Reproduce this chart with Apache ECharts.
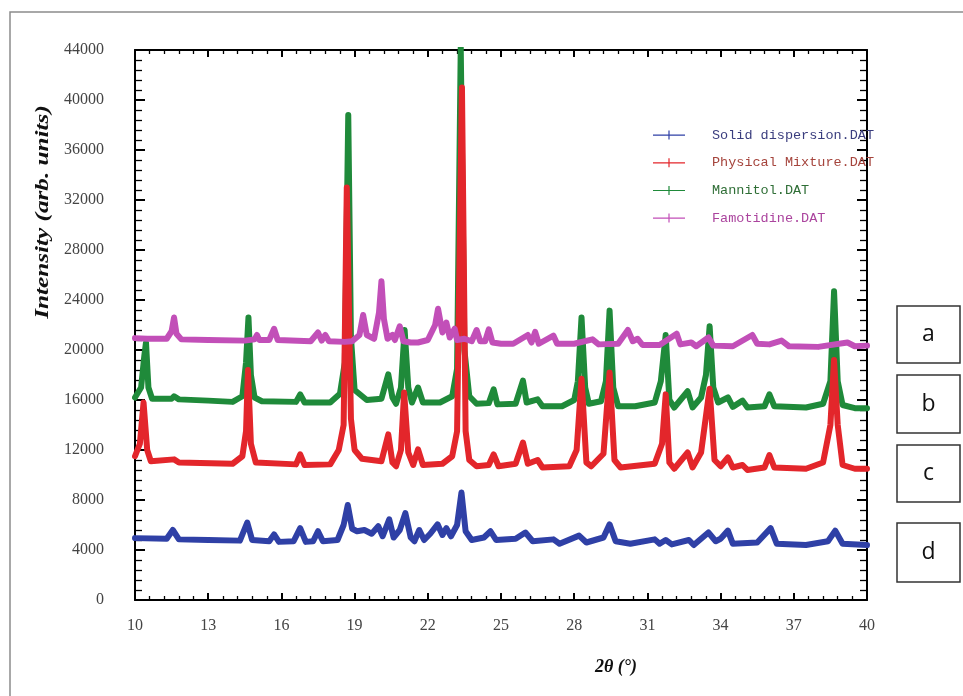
<!DOCTYPE html>
<html>
<head>
<meta charset="utf-8">
<script src="https://cdn.jsdelivr.net/npm/echarts@6/dist/echarts.min.js"></script>
<style>html,body{margin:0;padding:0;background:#fff}#c{width:963px;height:696px}</style>
</head>
<body>
<div id="c"></div>
<script>
// ---- data (2θ in degrees, intensity in arb. units) ----
const seriesNames = ['Solid dispersion.DAT', 'Physical Mixture.DAT', 'Mannitol.DAT', 'Famotidine.DAT'];
const xTicks = [10, 13, 16, 19, 22, 25, 28, 31, 34, 37, 40];
const yTicks = [0, 4000, 8000, 12000, 16000, 20000, 24000, 28000, 32000, 36000, 40000, 44000];

const solidDispersion = [
  [10.0,4950],[11.3,4900],[11.55,5600],[11.8,4850],[13.0,4800],[14.3,4750],[14.6,6200],[14.8,4800],
  [15.5,4700],[15.7,5250],[15.9,4650],[16.5,4700],[16.77,5750],[17.0,4650],[17.3,4700],[17.5,5500],
  [17.7,4700],[18.3,4800],[18.55,6000],[18.72,7600],[18.9,5700],[19.1,5500],[19.4,5600],[19.7,5300],
  [19.97,5900],[20.15,5100],[20.42,6450],[20.6,5000],[20.85,5600],[21.08,6950],[21.3,5000],[21.45,4700],
  [21.65,5600],[21.85,4800],[22.1,5300],[22.4,6050],[22.6,5200],[22.76,5750],[22.95,5100],[23.2,6000],
  [23.38,8600],[23.55,5500],[23.8,4800],[24.3,5000],[24.57,5500],[24.8,4800],[25.6,4900],[26.0,5400],
  [26.3,4700],[27.15,4850],[27.4,4500],[28.2,5150],[28.5,4600],[29.2,5000],[29.45,6050],[29.7,4700],
  [30.3,4500],[31.3,4850],[31.5,4500],[31.75,4800],[32.0,4450],[32.7,4800],[32.9,4400],[33.5,5400],
  [33.8,4700],[34.0,4900],[34.3,5550],[34.5,4500],[35.5,4600],[36.05,5750],[36.3,4500],[37.5,4400],
  [38.4,4700],[38.7,5550],[39.0,4500],[40.0,4400]
];
const physicalMixture = [
  [10.0,11500],[10.2,12500],[10.35,15800],[10.5,12000],[10.65,11100],[11.6,11250],[11.8,11000],[14.0,10900],
  [14.4,11500],[14.55,13500],[14.63,18400],[14.75,12500],[14.95,11000],[16.6,10850],[16.77,11650],[16.95,10800],
  [18.0,10850],[18.35,12000],[18.55,14000],[18.68,33000],[18.85,14500],[19.0,12000],[19.3,11300],[20.1,11100],
  [20.38,13250],[20.55,11000],[20.7,10700],[20.9,12000],[21.03,16600],[21.2,11800],[21.4,10800],[21.6,12050],
  [21.8,10800],[22.6,10900],[23.0,11500],[23.2,13500],[23.4,41000],[23.55,13500],[23.7,11200],[24.0,10700],
  [24.5,10800],[24.7,11650],[24.9,10700],[25.6,10900],[25.9,12600],[26.1,10900],[26.5,11200],[26.7,10600],
  [27.8,10700],[28.1,12000],[28.3,17700],[28.5,11000],[28.7,10700],[29.2,11700],[29.45,18200],[29.65,11200],
  [29.9,10600],[31.3,10900],[31.6,12500],[31.75,16450],[31.9,11000],[32.1,10500],[32.65,11800],[32.85,10600],
  [33.2,11800],[33.55,16900],[33.75,11200],[34.0,10700],[34.3,11400],[34.5,10600],[34.9,10800],[35.1,10400],
  [35.8,10600],[36.0,11600],[36.2,10600],[37.5,10500],[38.2,11000],[38.5,14000],[38.65,19200],[38.8,14000],
  [39.0,10800],[39.5,10500],[40.0,10500]
];
const mannitol = [
  [10.0,16200],[10.25,17000],[10.38,19500],[10.45,20600],[10.55,17000],[10.7,16100],[11.5,16100],[11.6,16300],
  [11.8,16050],[13.0,15950],[14.0,15850],[14.4,16300],[14.55,19000],[14.65,22600],[14.75,18000],[14.9,16200],
  [15.2,15900],[16.6,15850],[16.77,16450],[16.95,15800],[18.0,15800],[18.4,16500],[18.6,19000],[18.74,38800],
  [18.85,21000],[19.0,16800],[19.5,16000],[20.1,16100],[20.38,18050],[20.55,16200],[20.7,15700],[20.9,17000],
  [21.05,21600],[21.2,17000],[21.35,15800],[21.6,17000],[21.8,15800],[22.5,15800],[23.0,16300],[23.2,18500],
  [23.35,44200],[23.5,20000],[23.7,16300],[24.0,15700],[24.5,15750],[24.7,16850],[24.85,15650],[25.6,15700],
  [25.9,17550],[26.05,15800],[26.5,16050],[26.7,15500],[27.5,15500],[28.0,16000],[28.15,17500],[28.3,22600],
  [28.45,17000],[28.6,15700],[29.1,15900],[29.3,17500],[29.45,23150],[29.6,17000],[29.8,15500],[30.5,15500],
  [31.3,15800],[31.55,17500],[31.75,21200],[31.9,16000],[32.1,15400],[32.65,16700],[32.85,15400],[33.2,16200],
  [33.4,18000],[33.55,21900],[33.7,17000],[33.9,15800],[34.3,16200],[34.5,15450],[34.9,15950],[35.1,15400],
  [35.8,15500],[36.0,16450],[36.2,15500],[37.5,15400],[38.2,15700],[38.5,17500],[38.65,24700],[38.8,17500],
  [39.0,15600],[39.5,15350],[40.0,15350]
];
const famotidine = [
  [10.0,20950],[10.5,20900],[11.3,20900],[11.5,21500],[11.6,22600],[11.7,21300],[11.9,20850],[13.0,20800],
  [14.5,20750],[14.9,20850],[15.0,21200],[15.1,20800],[15.5,20800],[15.7,21700],[15.85,20800],[17.2,20700],
  [17.5,21400],[17.65,20750],[17.8,21200],[17.95,20700],[18.6,20650],[18.9,20700],[19.2,21200],[19.35,22800],
  [19.5,21200],[19.8,20900],[20.0,23000],[20.1,25500],[20.2,22500],[20.35,20900],[20.55,21200],[20.65,20800],
  [20.85,21900],[21.0,20700],[21.3,20600],[21.6,20600],[22.0,20800],[22.3,22000],[22.42,23300],[22.6,21400],
  [22.76,22200],[22.9,21000],[23.1,21700],[23.2,20800],[23.5,20900],[23.8,20700],[24.0,21600],[24.15,20700],
  [24.35,20700],[24.5,21650],[24.65,20600],[25.0,20500],[25.5,20500],[26.1,21200],[26.25,20600],[26.4,21450],
  [26.55,20500],[27.15,21150],[27.3,20500],[28.0,20500],[28.75,20850],[29.0,20450],[29.8,20500],[30.2,21600],
  [30.4,20700],[30.6,20900],[30.8,20400],[31.5,20400],[32.2,21300],[32.35,20450],[32.8,20600],[33.0,20300],
  [33.5,21000],[33.7,20350],[34.5,20300],[35.3,21200],[35.5,20500],[36.0,20450],[36.5,20750],[36.8,20300],
  [38.0,20250],[39.2,20600],[39.5,20300],[40.0,20350]
];
const seriesData = [solidDispersion, physicalMixture, mannitol, famotidine];
const seriesColors = ['#2f40a6', '#e3262b', '#1f8a3a', '#c24fb8'];
const seriesZ = [2, 4, 3, 5];
const legendTextColors = ['#3a3d7e', '#a5443c', '#2f6e36', '#ab449e'];
const boxLabels = ['a', 'b', 'c', 'd'];

// ---- chart ----
const chart = echarts.init(document.getElementById('c'), null, {renderer: 'canvas'});
const serif = '"Liberation Serif", "Times New Roman", serif';

const axisCommon = {
  type: 'value',
  axisLine: {show: true, onZero: false, lineStyle: {color: '#000', width: 2}},
  splitLine: {show: false},
  minorSplitLine: {show: false}
};

const xBase = Object.assign({}, axisCommon, {
  min: xTicks[0], max: xTicks[xTicks.length - 1], interval: xTicks[1] - xTicks[0],
  axisTick: {show: true, inside: true, length: 7, lineStyle: {color: '#000', width: 2}},
  minorTick: {show: true, splitNumber: 5, length: 4, lineStyle: {color: '#000', width: 1.3}}
});
const yBase = Object.assign({}, axisCommon, {
  min: yTicks[0], max: yTicks[yTicks.length - 1], interval: yTicks[1] - yTicks[0],
  axisTick: {show: true, inside: true, length: 10, lineStyle: {color: '#000', width: 2}},
  minorTick: {show: true, splitNumber: 5, length: 7, lineStyle: {color: '#000', width: 1.3}}
});

const legendIcon = 'path://M0,6.5h32v1.2h-32z M15.4,2.5h1.2v9h-1.2z M53.95,0h0.05v0.05h-0.05z M53.95,13.95h0.05v0.05h-0.05z';

const option = {
  animation: false,
  backgroundColor: '#fff',
  grid: {left: 135, right: 96, top: 50, bottom: 96, containLabel: false},
  xAxis: [
    Object.assign({}, xBase, {
      position: 'bottom',
      axisLabel: {show: true, margin: 18, fontFamily: serif, fontSize: 16, color: '#444',
        formatter: v => String(v)}
    }),
    Object.assign({}, xBase, {position: 'top', axisLabel: {show: false}})
  ],
  yAxis: [
    Object.assign({}, yBase, {
      position: 'left',
      axisLabel: {show: true, margin: 31, fontFamily: serif, fontSize: 16, color: '#444',
        formatter: v => String(v)}
    }),
    Object.assign({}, yBase, {position: 'right', axisLabel: {show: false}})
  ],
  legend: {
    show: true,
    orient: 'vertical',
    left: 648,
    top: 123,
    itemWidth: 54,
    itemHeight: 14,
    itemGap: 13.7,
    icon: legendIcon,
    itemStyle: {borderWidth: 0},
    textStyle: {fontFamily: '"Liberation Mono", "DejaVu Sans Mono", monospace', fontSize: 13.5},
    selectedMode: false,
    data: seriesNames.map((n, i) => ({name: n, textStyle: {color: legendTextColors[i]}}))
  },
  series: seriesNames.map((n, i) => ({
    name: n,
    type: 'line',
    xAxisIndex: 0,
    yAxisIndex: 0,
    data: seriesData[i],
    showSymbol: false,
    symbol: 'none',
    clip: true,
    color: seriesColors[i],
    lineStyle: {color: seriesColors[i], width: 6, join: 'round', cap: 'round'},
    z: seriesZ[i]
  })),
  graphic: [
    {type: 'rect', z: -10, silent: true,
      shape: {x: 10, y: 12, width: 1000, height: 800},
      style: {fill: 'none', stroke: '#8c8c8c', lineWidth: 1.5}},
    {type: 'text', x: 43, y: 212, rotation: Math.PI / 2, scaleX: 1.4, scaleY: 1, silent: true,
      style: {text: 'Intensity (arb. units)', textAlign: 'center', textVerticalAlign: 'middle',
        font: 'italic bold 18px ' + serif, fill: '#111'}},
    {type: 'text', x: 616, y: 667, silent: true,
      style: {text: '2θ (°)', textAlign: 'center', textVerticalAlign: 'middle',
        font: 'italic bold 18px ' + serif, fill: '#111'}}
  ].concat(boxLabels.map((b, i) => {
    const tops = [306, 375, 445, 523];
    const hs = [57, 58, 57, 59];
    return {type: 'group', silent: true, children: [
      {type: 'rect', shape: {x: 897, y: tops[i], width: 63, height: hs[i]},
        style: {fill: '#fff', stroke: '#333', lineWidth: 1.5}},
      {type: 'text', x: 928.5, y: tops[i] + hs[i] / 2, style: {text: b, textAlign: 'center',
        textVerticalAlign: 'middle', font: '23px "Open Sans", "Noto Sans", sans-serif', fill: '#111'}}
    ]};
  }))
};
chart.setOption(option);
</script>
</body>
</html>
